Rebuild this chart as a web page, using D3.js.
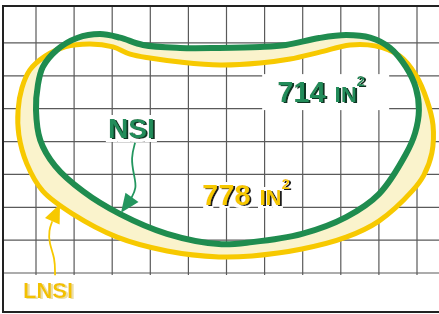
<!DOCTYPE html>
<html>
<head>
<meta charset="utf-8">
<script src="https://cdn.jsdelivr.net/npm/d3@7"></script>
<style>
  body { margin: 0; background: #fff; }
  svg { display: block; }
</style>
</head>
<body>
<script>
// grid lines (in grid units)
var gridCols = d3.range(1, 12),
  gridRows = d3.range(1, 9);

// outlines, grid units [col, row], clockwise from top-left
var nsiOutline = [
  [1.18, 1.73], [1.55, 1.21], [2.08, 0.85], [2.68, 0.73], [3.21, 0.84], [3.81, 1.06],
  [4.78, 1.15], [5.80, 1.15], [6.88, 1.12], [7.56, 1.06], [8.43, 0.85], [9.14, 0.76],
  [9.77, 0.84], [10.29, 1.15], [10.71, 1.73], [10.97, 2.37], [11.05, 3.04], [10.95, 3.74],
  [10.71, 4.38], [10.00, 5.60], [9.14, 6.30], [7.98, 6.81], [6.67, 7.06], [5.80, 7.12],
  [4.44, 6.81], [3.21, 6.21], [2.23, 5.51], [1.50, 4.74], [1.11, 3.95], [1.00, 3.04],
  [1.05, 2.28]
];
var lnsiOutline = [
  [0.53, 3.04], [0.63, 2.37], [0.84, 1.82], [1.24, 1.40], [1.76, 1.12], [2.42, 1.03],
  [3.02, 1.12], [3.47, 1.34], [3.99, 1.46], [4.78, 1.58], [5.83, 1.67], [6.88, 1.61],
  [7.67, 1.49], [8.45, 1.28], [9.24, 1.06], [9.90, 1.09], [10.55, 1.40], [10.97, 1.98],
  [11.26, 2.74], [11.42, 3.50], [11.39, 4.35], [11.18, 5.02], [10.87, 5.51], [10.00, 6.42],
  [9.14, 6.91], [7.98, 7.27], [6.67, 7.48], [5.80, 7.51], [4.44, 7.33], [3.13, 6.91],
  [1.97, 6.21], [1.18, 5.51], [0.76, 4.68], [0.55, 3.80]
];

var seriesNames = ["NSI", "LNSI"];
var areaValues = [714, 778];
var areaUnit = "IN";

var width = 439, height = 314;

var x = d3.scaleLinear().domain([0, 11]).range([-2.1, 417]);
var y = d3.scaleLinear().domain([0, 8]).range([10.1, 273]);

var green = "#1f8c4f", yellow = "#f7c900", cream = "#faf3cc";

var svg = d3.select("body").append("svg")
  .attr("width", width)
  .attr("height", height);

// text effects: white halo + drop shadow in one filter
var defs = svg.append("defs");
function textFilter(id, halo, shadow) {
  var f = defs.append("filter").attr("id", id)
    .attr("x", "-20%").attr("y", "-40%").attr("width", "140%").attr("height", "180%");
  f.append("feMorphology").attr("in", "SourceAlpha").attr("operator", "dilate")
    .attr("radius", halo).attr("result", "grow");
  f.append("feFlood").attr("flood-color", "#fff").attr("result", "white");
  f.append("feComposite").attr("in", "white").attr("in2", "grow").attr("operator", "in").attr("result", "halo");
  f.append("feOffset").attr("in", "SourceAlpha").attr("dx", 1.6).attr("dy", 1.4).attr("result", "off");
  f.append("feFlood").attr("flood-color", shadow).attr("result", "dark");
  f.append("feComposite").attr("in", "dark").attr("in2", "off").attr("operator", "in").attr("result", "shadow");
  var m = f.append("feMerge");
  m.append("feMergeNode").attr("in", "halo");
  m.append("feMergeNode").attr("in", "shadow");
  m.append("feMergeNode").attr("in", "SourceGraphic");
}
textFilter("fx-green", 3.5, "#0b3520");
textFilter("fx-yellow", 3, "#1a1a1a");
textFilter("fx-lnsi", 0, "#eadfa8");

// grid
svg.append("g").selectAll("line")
  .data(gridCols)
  .enter().append("line")
  .attr("x1", function (d) { return x(d); })
  .attr("x2", function (d) { return x(d); })
  .attr("y1", 6)
  .attr("y2", y(8) + 2)
  .attr("stroke", "#5a5a5a")
  .attr("stroke-width", 1.2);

svg.append("g").selectAll("line")
  .data(gridRows)
  .enter().append("line")
  .attr("x1", 3)
  .attr("x2", width)
  .attr("y1", function (d) { return y(d); })
  .attr("y2", function (d) { return y(d); })
  .attr("stroke", "#5a5a5a")
  .attr("stroke-width", 1.2);

// frame (no right edge)
svg.append("path")
  .attr("d", "M" + width + ",6H3V312H" + width)
  .attr("fill", "none")
  .attr("stroke", "#222")
  .attr("stroke-width", 2);

var line = d3.line()
  .x(function (d) { return x(d[0]); })
  .y(function (d) { return y(d[1]); })
  .curve(d3.curveCatmullRomClosed.alpha(0.5));

// band between the two outlines
svg.append("path")
  .attr("d", line(lnsiOutline) + line(nsiOutline))
  .attr("fill", cream)
  .attr("fill-rule", "evenodd");

svg.append("path")
  .attr("d", line(lnsiOutline))
  .attr("fill", "none")
  .attr("stroke", yellow)
  .attr("stroke-width", 5);

svg.append("path")
  .attr("d", line(nsiOutline))
  .attr("fill", "none")
  .attr("stroke", green)
  .attr("stroke-width", 6);

// arrows
function arrow(pts, color) {
  var p = pts.map(function (d) { return [x(d[0]), y(d[1])]; });
  var tip = p[p.length - 1], prev = p[p.length - 2];
  var dx = tip[0] - prev[0], dy = tip[1] - prev[1], len = Math.sqrt(dx * dx + dy * dy);
  var ux = dx / len, uy = dy / len, hl = 19, hw = 8;
  var bx = tip[0] - ux * hl, by = tip[1] - uy * hl;
  var body = p.slice(0, -1).concat([[bx, by]]);
  svg.append("path")
    .attr("d", d3.line().curve(d3.curveBasis)(body))
    .attr("fill", "none")
    .attr("stroke", color)
    .attr("stroke-width", 1.8);
  svg.append("path")
    .attr("d", "M" + tip + "L" + [bx - uy * hw, by + ux * hw] + "L" + [bx + uy * hw, by - ux * hw] + "Z")
    .attr("fill", color);
}
arrow([[3.60, 4.04], [3.49, 4.50], [3.57, 5.02], [3.65, 5.41], [3.47, 5.78], [3.23, 6.17]], "#23965f");
arrow([[1.50, 8.07], [1.50, 7.55], [1.34, 7.09], [1.34, 6.69], [1.42, 6.45], [1.63, 5.90]], yellow);

var font = "'Liberation Sans', Arial, sans-serif";

function label(g, parts, fill, fx) {
  var t = g.append("text")
    .attr("font-family", font)
    .attr("font-weight", "bold")
    .attr("fill", fill)
    .attr("filter", "url(#" + fx + ")");
  parts.forEach(function (p) {
    t.append("tspan")
      .attr("font-size", p.size)
      .attr("dx", p.dx || 0)
      .attr("dy", p.dy || 0)
      .text(p.text);
  });
}

function areaParts(v) {
  return [
    { text: v, size: 29 },
    { text: areaUnit, size: 22, dx: 9 },
    { text: "2", size: 15, dy: -16 }
  ];
}

// 714 label sits on a white patch
var g714 = svg.append("g").attr("transform", "translate(" + x(7.33) + "," + y(2.80) + ")");
g714.append("rect").attr("x", -15).attr("y", -28).attr("width", 127).attr("height", 36).attr("fill", "#fff");
label(g714, areaParts(areaValues[0]), "#238c5a", "fx-green");

var g778 = svg.append("g").attr("transform", "translate(" + x(5.36) + "," + y(5.93) + ")");
label(g778, areaParts(areaValues[1]), yellow, "fx-yellow");

var gNsi = svg.append("g").attr("transform", "translate(" + x(2.89) + "," + y(3.89) + ")");
label(gNsi, [{ text: seriesNames[0], size: 28 }], "#238c5a", "fx-green");

var gLnsi = svg.append("g").attr("transform", "translate(" + x(0.66) + "," + y(8.76) + ")");
label(gLnsi, [{ text: seriesNames[1], size: 22 }], "#f2c200", "fx-lnsi");
</script>
</body>
</html>
